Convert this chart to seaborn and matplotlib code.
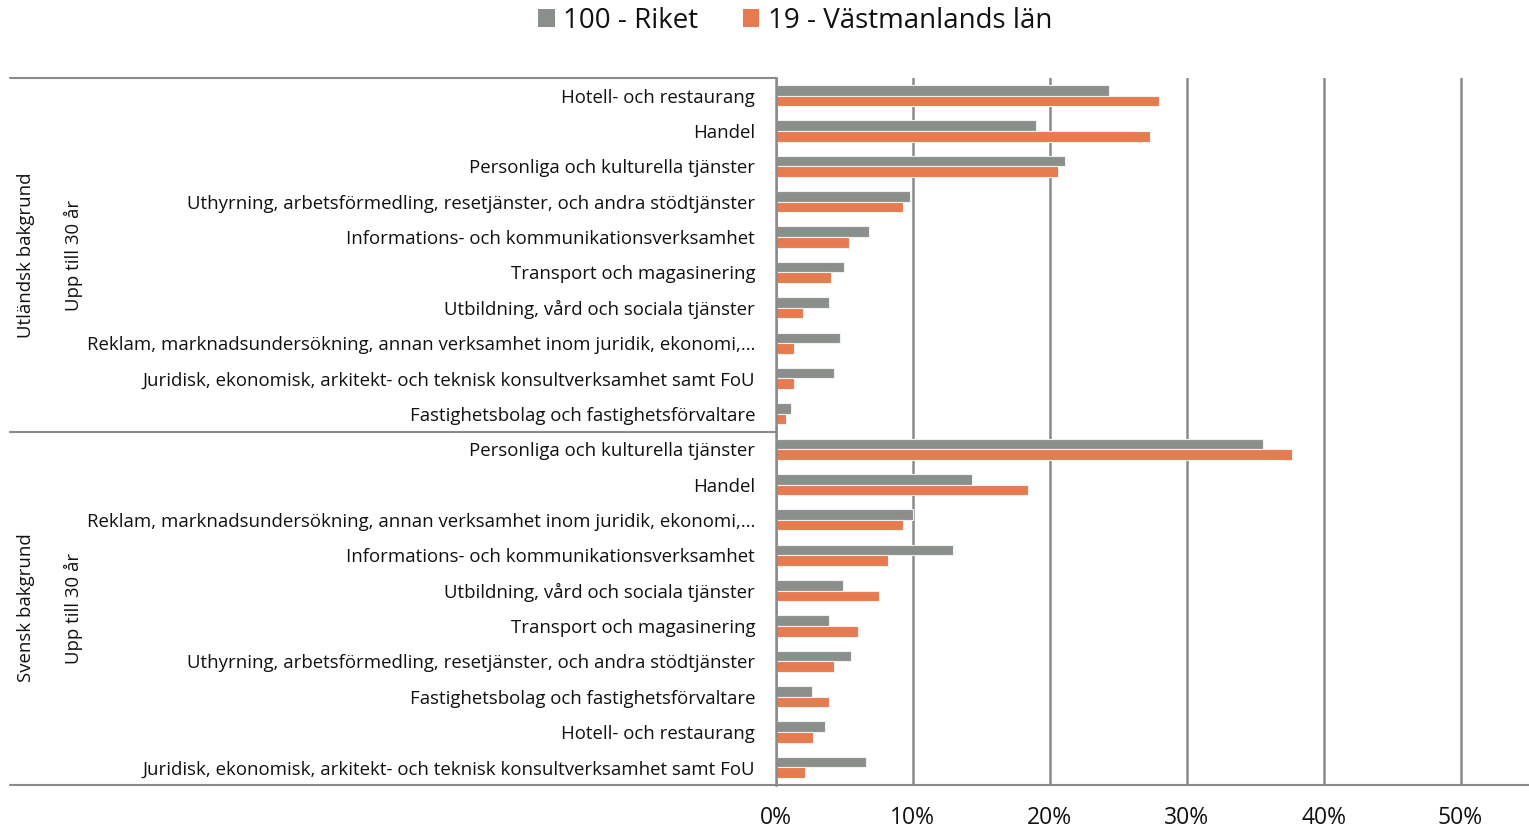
import numpy as np
import pandas as pd
import matplotlib
matplotlib.use("Agg")
import matplotlib.pyplot as plt
import seaborn as sns
from matplotlib.lines import Line2D
from matplotlib.patches import Patch
from matplotlib.ticker import FuncFormatter

# ---------------- data ----------------
series_names = ["100 - Riket", "19 - Västmanlands län"]
groups_outer = ["Utländsk bakgrund", "Svensk bakgrund"]
groups_inner = ["Upp till 30 år", "Upp till 30 år"]

cats_utl = [
    "Hotell- och restaurang",
    "Handel",
    "Personliga och kulturella tjänster",
    "Uthyrning, arbetsförmedling, resetjänster, och andra stödtjänster",
    "Informations- och kommunikationsverksamhet",
    "Transport och magasinering",
    "Utbildning, vård och sociala tjänster",
    "Reklam, marknadsundersökning, annan verksamhet inom juridik, ekonomi,…",
    "Juridisk, ekonomisk, arkitekt- och teknisk konsultverksamhet samt FoU",
    "Fastighetsbolag och fastighetsförvaltare",
]
riket_utl = [24.3, 19.0, 21.1, 9.8, 6.8, 5.0, 3.9, 4.7, 4.2, 1.1]
vml_utl = [28.0, 27.3, 20.6, 9.3, 5.3, 4.0, 2.0, 1.3, 1.3, 0.7]

cats_sve = [
    "Personliga och kulturella tjänster",
    "Handel",
    "Reklam, marknadsundersökning, annan verksamhet inom juridik, ekonomi,…",
    "Informations- och kommunikationsverksamhet",
    "Utbildning, vård och sociala tjänster",
    "Transport och magasinering",
    "Uthyrning, arbetsförmedling, resetjänster, och andra stödtjänster",
    "Fastighetsbolag och fastighetsförvaltare",
    "Hotell- och restaurang",
    "Juridisk, ekonomisk, arkitekt- och teknisk konsultverksamhet samt FoU",
]
riket_sve = [35.6, 14.3, 10.0, 12.9, 4.9, 3.9, 5.5, 2.6, 3.6, 6.6]
vml_sve = [37.7, 18.4, 9.3, 8.2, 7.5, 6.0, 4.2, 3.9, 2.7, 2.1]

x_ticks = [0, 10, 20, 30, 40, 50]

# ---------------- build frame ----------------
labels = cats_utl + cats_sve
riket = riket_utl + riket_sve
vml = vml_utl + vml_sve
keys = [f"r{i:02d}" for i in range(len(labels))]
df = pd.DataFrame({
    "key": keys * 2,
    "value": riket + vml,
    "series": [series_names[0]] * len(keys) + [series_names[1]] * len(keys),
})

sns.set_theme(style="white")
plt.rcParams["font.family"] = ["Open Sans", "DejaVu Sans"]

GRAY = "#8B8F8C"
ORANGE = "#E57B4E"
LINE = "#8A8A8A"
TXT = "#111111"
FS = 13.4

W, H = 1529, 832
fig = plt.figure(figsize=(W / 100, H / 100), dpi=100)
ax_l, ax_r, ax_t, ax_b = 776, 1529, 78, 785
ax = fig.add_axes([ax_l / W, 1 - ax_b / H, (ax_r - ax_l) / W, (ax_b - ax_t) / H])

sns.barplot(data=df, y="key", x="value", hue="series", order=keys,
            hue_order=series_names, palette=[GRAY, ORANGE], orient="h",
            saturation=1, width=0.6, edgecolor="#f0f0f0", linewidth=0.8,
            ax=ax, legend=False)

ax.set_xlim(0, 55)
ax.set_ylim(len(keys) - 0.5, -0.5)
ax.set_xticks(x_ticks)
ax.xaxis.set_major_formatter(FuncFormatter(lambda v, p: f"{int(v)}%"))
ax.set_yticks(range(len(keys)))
ax.set_yticklabels(labels, fontsize=FS, color=TXT)
ax.tick_params(axis="y", length=0, pad=15)
ax.tick_params(axis="x", length=0, pad=15, labelsize=16.5, labelcolor=TXT)
ax.set_xlabel("")
ax.set_ylabel("")
for s in ["top", "right", "bottom"]:
    ax.spines[s].set_visible(False)
ax.spines["left"].set_color(LINE)
ax.spines["left"].set_linewidth(1.8)
ax.grid(axis="x", color=LINE, linewidth=1.8)
ax.set_axisbelow(True)

# lines of the multi-level category axis
def hline(y, x0, x1):
    fig.add_artist(Line2D([x0 / W, x1 / W], [1 - y / H, 1 - y / H],
                          color=LINE, linewidth=1.5))
hline(78, 10, 776)
hline(432, 10, 776)
hline(785, 10, 1529)

# group labels
for gi, (outer, inner) in enumerate(zip(groups_outer, groups_inner)):
    yc = 255 if gi == 0 else 608
    fig.text(26 / W, 1 - yc / H, outer, rotation=90, ha="center", va="center",
             fontsize=FS, color=TXT)
    fig.text(73 / W, 1 - yc / H, inner, rotation=90, ha="center", va="center",
             fontsize=FS, color=TXT)

# legend
handles = [Patch(facecolor=GRAY, edgecolor="none"), Patch(facecolor=ORANGE, edgecolor="none")]
fig.legend(handles, series_names, loc="center", bbox_to_anchor=(795 / W, 1 - 21 / H),
           ncol=2, frameon=False, fontsize=20, handlelength=0.6, handleheight=0.6,
           handletextpad=0.3, columnspacing=1.6, labelcolor=TXT)

fig.savefig("out.png", dpi=100)
